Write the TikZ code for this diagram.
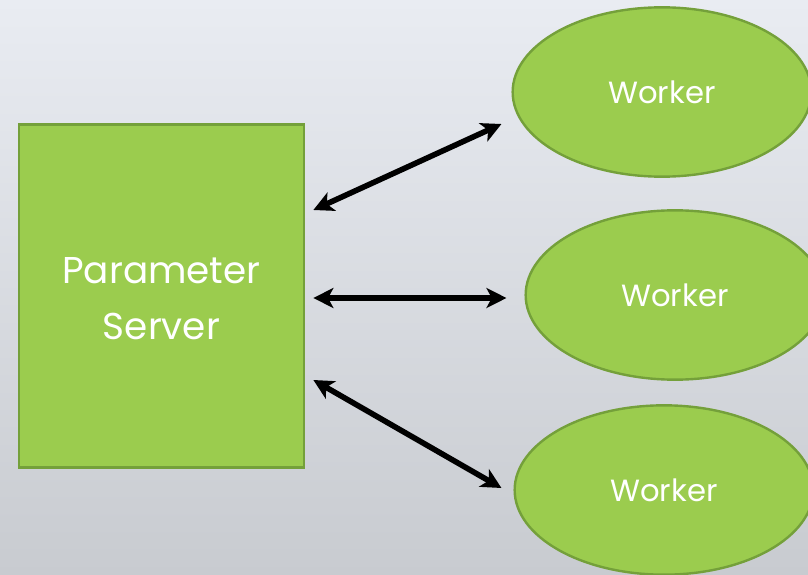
\documentclass[tikz,border=0pt]{standalone}
\usepackage{fontspec}
\setmainfont{Poppins}
\usetikzlibrary{positioning,arrows.meta,shapes.geometric}

\definecolor{leaf}{HTML}{9BCC4E}
\definecolor{leafedge}{HTML}{74A03A}
\definecolor{paperhi}{HTML}{E9ECF2}
\definecolor{paperlo}{HTML}{C8CBD0}

\begin{document}
\begin{tikzpicture}[x=0.75pt, y=-0.75pt,
	server/.style={draw=leafedge, line width=1.8pt, fill=leaf, text=white, minimum width=214pt, minimum height=257pt, align=center, font=\fontsize{28}{42}\selectfont},
	worker/.style={ellipse, draw=leafedge, line width=1.8pt, fill=leaf, text=white, minimum width=224pt, minimum height=127pt, font=\fontsize{23}{28}\selectfont},
	link/.style={line width=4.2pt, {Stealth[length=15pt,width=15pt,inset=4pt]}-{Stealth[length=15pt,width=15pt,inset=4pt]}}]
			% backdrop
			\shade[shading angle=135, top color=paperhi, bottom color=paperlo] (0,0) rectangle (808,575);
			\useasboundingbox (0,0) rectangle (808,575);
			\node[server] (ps) at (161.5,296) {};
			\node[font=\fontsize{28}{42}\selectfont, text=white, align=center] (pslabel) at (161.5,299) {Parameter\\Server};
			\node[worker] (w1) at (662,92) {Worker};
			\node[worker] (w2) at (675,295) {Worker};
			\node[worker] (w3) at (664,490) {Worker};
			% arrow ends, set off from the shapes
			\coordinate (p1) at ([shift={(8,-86)}]ps.east);
			\coordinate (p2) at ([shift={(8,2)}]ps.east);
			\coordinate (p3) at ([shift={(8,84)}]ps.east);
			\coordinate (q1) at ([shift={(-10,32)}]w1.west);
			\coordinate (q2) at ([shift={(-18,3)}]w2.west);
			\coordinate (q3) at ([shift={(-12,-2)}]w3.west);
			\draw[link] (p1) -- (q1);
			\draw[link] (p2) -- (q2);
			\draw[link] (p3) -- (q3);
			\end{tikzpicture}
\end{document}
